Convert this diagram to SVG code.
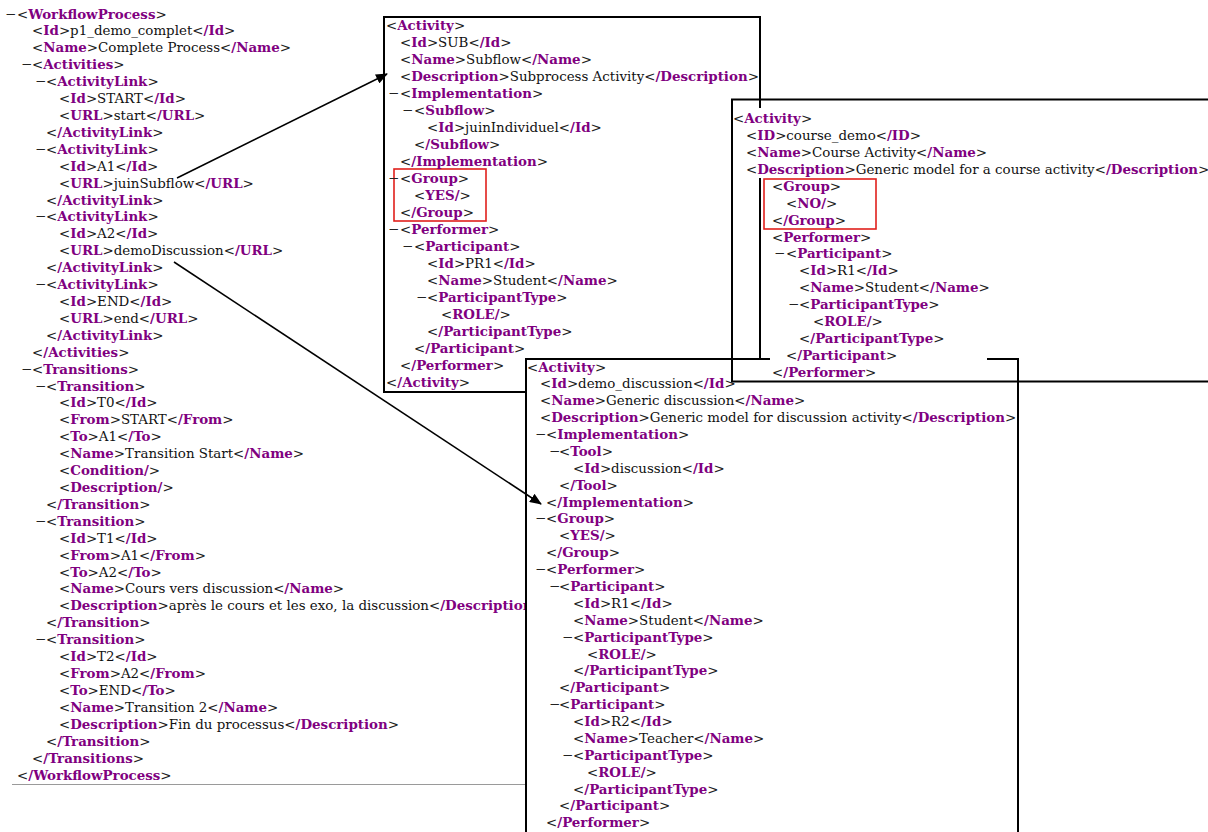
<svg xmlns="http://www.w3.org/2000/svg" width="1208" height="832" viewBox="0 0 1208 832">
<defs>
<style>
text{font-family:"DejaVu Serif","Liberation Serif",serif;font-size:13.4px;fill:#222}
.t{fill:#800080;font-weight:bold}
.v{fill:#111}
.box{fill:#fff;stroke:#000;stroke-width:2}
.frame{fill:none;stroke:#000;stroke-width:2}
.hl{fill:none;stroke:#e0201c;stroke-width:1.6}
.conn{stroke:#000;stroke-width:1.5;fill:none}
</style>
<marker id="ah" markerWidth="12" markerHeight="10" refX="11" refY="5" orient="auto" markerUnits="userSpaceOnUse">
<path d="M0,0 L12,5 L0,10 z" fill="#000"/>
</marker>
</defs>
<rect width="1208" height="832" fill="#fff"/>

<g id="workflow">
<text y="18.5"><tspan x="5">−</tspan><tspan x="17">&lt;</tspan><tspan class="t">WorkflowProcess</tspan>&gt;</text>
<text x="32" y="35.4">&lt;<tspan class="t">Id</tspan>&gt;<tspan class="v">p1_demo_complet</tspan>&lt;<tspan class="t">/Id</tspan>&gt;</text>
<text x="32" y="52.3">&lt;<tspan class="t">Name</tspan>&gt;<tspan class="v">Complete Process</tspan>&lt;<tspan class="t">/Name</tspan>&gt;</text>
<text y="69.2"><tspan x="21">−</tspan><tspan x="32">&lt;</tspan><tspan class="t">Activities</tspan>&gt;</text>
<text y="86.1"><tspan x="35">−</tspan><tspan x="46">&lt;</tspan><tspan class="t">ActivityLink</tspan>&gt;</text>
<text x="59" y="103.1">&lt;<tspan class="t">Id</tspan>&gt;<tspan class="v">START</tspan>&lt;<tspan class="t">/Id</tspan>&gt;</text>
<text x="59" y="120">&lt;<tspan class="t">URL</tspan>&gt;<tspan class="v">start</tspan>&lt;<tspan class="t">/URL</tspan>&gt;</text>
<text x="46" y="136.9">&lt;<tspan class="t">/ActivityLink</tspan>&gt;</text>
<text y="153.8"><tspan x="35">−</tspan><tspan x="46">&lt;</tspan><tspan class="t">ActivityLink</tspan>&gt;</text>
<text x="59" y="170.7">&lt;<tspan class="t">Id</tspan>&gt;<tspan class="v">A1</tspan>&lt;<tspan class="t">/Id</tspan>&gt;</text>
<text x="59" y="187.6">&lt;<tspan class="t">URL</tspan>&gt;<tspan class="v">juinSubflow</tspan>&lt;<tspan class="t">/URL</tspan>&gt;</text>
<text x="46" y="204.5">&lt;<tspan class="t">/ActivityLink</tspan>&gt;</text>
<text y="221.4"><tspan x="35">−</tspan><tspan x="46">&lt;</tspan><tspan class="t">ActivityLink</tspan>&gt;</text>
<text x="59" y="238.3">&lt;<tspan class="t">Id</tspan>&gt;<tspan class="v">A2</tspan>&lt;<tspan class="t">/Id</tspan>&gt;</text>
<text x="59" y="255.2">&lt;<tspan class="t">URL</tspan>&gt;<tspan class="v">demoDiscussion</tspan>&lt;<tspan class="t">/URL</tspan>&gt;</text>
<text x="46" y="272.2">&lt;<tspan class="t">/ActivityLink</tspan>&gt;</text>
<text y="289.1"><tspan x="35">−</tspan><tspan x="46">&lt;</tspan><tspan class="t">ActivityLink</tspan>&gt;</text>
<text x="59" y="306">&lt;<tspan class="t">Id</tspan>&gt;<tspan class="v">END</tspan>&lt;<tspan class="t">/Id</tspan>&gt;</text>
<text x="59" y="322.9">&lt;<tspan class="t">URL</tspan>&gt;<tspan class="v">end</tspan>&lt;<tspan class="t">/URL</tspan>&gt;</text>
<text x="46" y="339.8">&lt;<tspan class="t">/ActivityLink</tspan>&gt;</text>
<text x="32" y="356.7">&lt;<tspan class="t">/Activities</tspan>&gt;</text>
<text y="373.6"><tspan x="21">−</tspan><tspan x="32">&lt;</tspan><tspan class="t">Transitions</tspan>&gt;</text>
<text y="390.5"><tspan x="35">−</tspan><tspan x="46">&lt;</tspan><tspan class="t">Transition</tspan>&gt;</text>
<text x="59" y="407.4">&lt;<tspan class="t">Id</tspan>&gt;<tspan class="v">T0</tspan>&lt;<tspan class="t">/Id</tspan>&gt;</text>
<text x="59" y="424.3">&lt;<tspan class="t">From</tspan>&gt;<tspan class="v">START</tspan>&lt;<tspan class="t">/From</tspan>&gt;</text>
<text x="59" y="441.3">&lt;<tspan class="t">To</tspan>&gt;<tspan class="v">A1</tspan>&lt;<tspan class="t">/To</tspan>&gt;</text>
<text x="59" y="458.2">&lt;<tspan class="t">Name</tspan>&gt;<tspan class="v">Transition Start</tspan>&lt;<tspan class="t">/Name</tspan>&gt;</text>
<text x="59" y="475.1">&lt;<tspan class="t">Condition/</tspan>&gt;</text>
<text x="59" y="492">&lt;<tspan class="t">Description/</tspan>&gt;</text>
<text x="46" y="508.9">&lt;<tspan class="t">/Transition</tspan>&gt;</text>
<text y="525.8"><tspan x="35">−</tspan><tspan x="46">&lt;</tspan><tspan class="t">Transition</tspan>&gt;</text>
<text x="59" y="542.7">&lt;<tspan class="t">Id</tspan>&gt;<tspan class="v">T1</tspan>&lt;<tspan class="t">/Id</tspan>&gt;</text>
<text x="59" y="559.6">&lt;<tspan class="t">From</tspan>&gt;<tspan class="v">A1</tspan>&lt;<tspan class="t">/From</tspan>&gt;</text>
<text x="59" y="576.5">&lt;<tspan class="t">To</tspan>&gt;<tspan class="v">A2</tspan>&lt;<tspan class="t">/To</tspan>&gt;</text>
<text x="59" y="593.4">&lt;<tspan class="t">Name</tspan>&gt;<tspan class="v">Cours vers discussion</tspan>&lt;<tspan class="t">/Name</tspan>&gt;</text>
<text x="59" y="610.4">&lt;<tspan class="t">Description</tspan>&gt;<tspan class="v">après le cours et les exo, la discussion</tspan>&lt;<tspan class="t">/Description</tspan></text>
<text x="46" y="627.3">&lt;<tspan class="t">/Transition</tspan>&gt;</text>
<text y="644.2"><tspan x="35">−</tspan><tspan x="46">&lt;</tspan><tspan class="t">Transition</tspan>&gt;</text>
<text x="59" y="661.1">&lt;<tspan class="t">Id</tspan>&gt;<tspan class="v">T2</tspan>&lt;<tspan class="t">/Id</tspan>&gt;</text>
<text x="59" y="678">&lt;<tspan class="t">From</tspan>&gt;<tspan class="v">A2</tspan>&lt;<tspan class="t">/From</tspan>&gt;</text>
<text x="59" y="694.9">&lt;<tspan class="t">To</tspan>&gt;<tspan class="v">END</tspan>&lt;<tspan class="t">/To</tspan>&gt;</text>
<text x="59" y="711.8">&lt;<tspan class="t">Name</tspan>&gt;<tspan class="v">Transition 2</tspan>&lt;<tspan class="t">/Name</tspan>&gt;</text>
<text x="59" y="728.7">&lt;<tspan class="t">Description</tspan>&gt;<tspan class="v">Fin du processus</tspan>&lt;<tspan class="t">/Description</tspan>&gt;</text>
<text x="46" y="745.6">&lt;<tspan class="t">/Transition</tspan>&gt;</text>
<text x="32" y="762.5">&lt;<tspan class="t">/Transitions</tspan>&gt;</text>
<text x="17" y="779.5">&lt;<tspan class="t">/WorkflowProcess</tspan>&gt;</text>
<line x1="12" y1="784.5" x2="531" y2="784.5" stroke="#9a9a9a" stroke-width="1"/>
</g>

<g id="activity-sub">
<rect class="box" x="384" y="17" width="376" height="375"/>
<rect class="hl" x="394" y="169" width="92" height="52"/>
<text x="386" y="29.5">&lt;<tspan class="t">Activity</tspan>&gt;</text>
<text x="400" y="46.5">&lt;<tspan class="t">Id</tspan>&gt;<tspan class="v">SUB</tspan>&lt;<tspan class="t">/Id</tspan>&gt;</text>
<text x="400" y="63.5">&lt;<tspan class="t">Name</tspan>&gt;<tspan class="v">Subflow</tspan>&lt;<tspan class="t">/Name</tspan>&gt;</text>
<text x="400" y="80.5">&lt;<tspan class="t">Description</tspan>&gt;<tspan class="v">Subprocess Activity</tspan>&lt;<tspan class="t">/Description</tspan>&gt;</text>
<text y="97.5"><tspan x="388">−</tspan><tspan x="400">&lt;</tspan><tspan class="t">Implementation</tspan>&gt;</text>
<text y="114.5"><tspan x="402">−</tspan><tspan x="414">&lt;</tspan><tspan class="t">Subflow</tspan>&gt;</text>
<text x="427" y="131.5">&lt;<tspan class="t">Id</tspan>&gt;<tspan class="v">juinIndividuel</tspan>&lt;<tspan class="t">/Id</tspan>&gt;</text>
<text x="414" y="148.5">&lt;<tspan class="t">/Subflow</tspan>&gt;</text>
<text x="400" y="165.5">&lt;<tspan class="t">/Implementation</tspan>&gt;</text>
<text y="182.5"><tspan x="388">−</tspan><tspan x="400">&lt;</tspan><tspan class="t">Group</tspan>&gt;</text>
<text x="414" y="199.5">&lt;<tspan class="t">YES/</tspan>&gt;</text>
<text x="400" y="216.5">&lt;<tspan class="t">/Group</tspan>&gt;</text>
<text y="233.5"><tspan x="388">−</tspan><tspan x="400">&lt;</tspan><tspan class="t">Performer</tspan>&gt;</text>
<text y="250.5"><tspan x="402">−</tspan><tspan x="414">&lt;</tspan><tspan class="t">Participant</tspan>&gt;</text>
<text x="427" y="267.5">&lt;<tspan class="t">Id</tspan>&gt;<tspan class="v">PR1</tspan>&lt;<tspan class="t">/Id</tspan>&gt;</text>
<text x="427" y="284.5">&lt;<tspan class="t">Name</tspan>&gt;<tspan class="v">Student</tspan>&lt;<tspan class="t">/Name</tspan>&gt;</text>
<text y="301.5"><tspan x="416">−</tspan><tspan x="427">&lt;</tspan><tspan class="t">ParticipantType</tspan>&gt;</text>
<text x="441" y="318.5">&lt;<tspan class="t">ROLE/</tspan>&gt;</text>
<text x="427" y="335.5">&lt;<tspan class="t">/ParticipantType</tspan>&gt;</text>
<text x="414" y="352.5">&lt;<tspan class="t">/Participant</tspan>&gt;</text>
<text x="400" y="369.5">&lt;<tspan class="t">/Performer</tspan>&gt;</text>
<text x="386" y="386.5">&lt;<tspan class="t">/Activity</tspan>&gt;</text>
</g>

<g id="activity-discussion">
<rect class="box" x="526" y="359" width="492" height="490"/>
<text x="527" y="371.5">&lt;<tspan class="t">Activity</tspan>&gt;</text>
<text x="540" y="388.4">&lt;<tspan class="t">Id</tspan>&gt;<tspan class="v">demo_discussion</tspan>&lt;<tspan class="t">/Id</tspan>&gt;</text>
<text x="540" y="405.3">&lt;<tspan class="t">Name</tspan>&gt;<tspan class="v">Generic discussion</tspan>&lt;<tspan class="t">/Name</tspan>&gt;</text>
<text x="540" y="422.1">&lt;<tspan class="t">Description</tspan>&gt;<tspan class="v">Generic model for discussion activity</tspan>&lt;<tspan class="t">/Description</tspan>&gt;</text>
<text y="439"><tspan x="535">−</tspan><tspan x="546">&lt;</tspan><tspan class="t">Implementation</tspan>&gt;</text>
<text y="455.9"><tspan x="549">−</tspan><tspan x="559">&lt;</tspan><tspan class="t">Tool</tspan>&gt;</text>
<text x="573" y="472.8">&lt;<tspan class="t">Id</tspan>&gt;<tspan class="v">discussion</tspan>&lt;<tspan class="t">/Id</tspan>&gt;</text>
<text x="559" y="489.7">&lt;<tspan class="t">/Tool</tspan>&gt;</text>
<text x="546" y="506.5">&lt;<tspan class="t">/Implementation</tspan>&gt;</text>
<text y="523.4"><tspan x="535">−</tspan><tspan x="546">&lt;</tspan><tspan class="t">Group</tspan>&gt;</text>
<text x="559" y="540.3">&lt;<tspan class="t">YES/</tspan>&gt;</text>
<text x="546" y="557.2">&lt;<tspan class="t">/Group</tspan>&gt;</text>
<text y="574.1"><tspan x="535">−</tspan><tspan x="546">&lt;</tspan><tspan class="t">Performer</tspan>&gt;</text>
<text y="590.9"><tspan x="549">−</tspan><tspan x="559">&lt;</tspan><tspan class="t">Participant</tspan>&gt;</text>
<text x="573" y="607.8">&lt;<tspan class="t">Id</tspan>&gt;<tspan class="v">R1</tspan>&lt;<tspan class="t">/Id</tspan>&gt;</text>
<text x="573" y="624.7">&lt;<tspan class="t">Name</tspan>&gt;<tspan class="v">Student</tspan>&lt;<tspan class="t">/Name</tspan>&gt;</text>
<text y="641.6"><tspan x="562">−</tspan><tspan x="573">&lt;</tspan><tspan class="t">ParticipantType</tspan>&gt;</text>
<text x="587" y="658.5">&lt;<tspan class="t">ROLE/</tspan>&gt;</text>
<text x="573" y="675.4">&lt;<tspan class="t">/ParticipantType</tspan>&gt;</text>
<text x="559" y="692.2">&lt;<tspan class="t">/Participant</tspan>&gt;</text>
<text y="709.1"><tspan x="549">−</tspan><tspan x="559">&lt;</tspan><tspan class="t">Participant</tspan>&gt;</text>
<text x="573" y="726">&lt;<tspan class="t">Id</tspan>&gt;<tspan class="v">R2</tspan>&lt;<tspan class="t">/Id</tspan>&gt;</text>
<text x="573" y="742.9">&lt;<tspan class="t">Name</tspan>&gt;<tspan class="v">Teacher</tspan>&lt;<tspan class="t">/Name</tspan>&gt;</text>
<text y="759.8"><tspan x="562">−</tspan><tspan x="573">&lt;</tspan><tspan class="t">ParticipantType</tspan>&gt;</text>
<text x="587" y="776.6">&lt;<tspan class="t">ROLE/</tspan>&gt;</text>
<text x="573" y="793.5">&lt;<tspan class="t">/ParticipantType</tspan>&gt;</text>
<text x="559" y="810.4">&lt;<tspan class="t">/Participant</tspan>&gt;</text>
<text x="546" y="827.3">&lt;<tspan class="t">/Performer</tspan>&gt;</text>
</g>

<g id="activity-course">
<rect x="733" y="108" width="476" height="70" fill="#fff"/>
<rect x="770" y="352" width="217" height="11" fill="#fff"/>
<rect class="frame" x="732" y="99.5" width="490" height="282"/>
<rect class="hl" x="764" y="179" width="112" height="50"/>
<text x="733" y="123">&lt;<tspan class="t">Activity</tspan>&gt;</text>
<text x="746" y="139.9">&lt;<tspan class="t">ID</tspan>&gt;<tspan class="v">course_demo</tspan>&lt;<tspan class="t">/ID</tspan>&gt;</text>
<text x="746" y="156.9">&lt;<tspan class="t">Name</tspan>&gt;<tspan class="v">Course Activity</tspan>&lt;<tspan class="t">/Name</tspan>&gt;</text>
<text x="746" y="173.8">&lt;<tspan class="t">Description</tspan>&gt;<tspan class="v">Generic model for a course activity</tspan>&lt;<tspan class="t">/Description</tspan>&gt;</text>
<text x="772" y="190.7">&lt;<tspan class="t">Group</tspan>&gt;</text>
<text x="786" y="207.7">&lt;<tspan class="t">NO/</tspan>&gt;</text>
<text x="772" y="224.6">&lt;<tspan class="t">/Group</tspan>&gt;</text>
<text x="772" y="241.5">&lt;<tspan class="t">Performer</tspan>&gt;</text>
<text y="258.4"><tspan x="774">−</tspan><tspan x="786">&lt;</tspan><tspan class="t">Participant</tspan>&gt;</text>
<text x="799" y="275.4">&lt;<tspan class="t">Id</tspan>&gt;<tspan class="v">R1</tspan>&lt;<tspan class="t">/Id</tspan>&gt;</text>
<text x="799" y="292.3">&lt;<tspan class="t">Name</tspan>&gt;<tspan class="v">Student</tspan>&lt;<tspan class="t">/Name</tspan>&gt;</text>
<text y="309.2"><tspan x="788">−</tspan><tspan x="799">&lt;</tspan><tspan class="t">ParticipantType</tspan>&gt;</text>
<text x="813" y="326.2">&lt;<tspan class="t">ROLE/</tspan>&gt;</text>
<text x="799" y="343.1">&lt;<tspan class="t">/ParticipantType</tspan>&gt;</text>
<text x="786" y="360">&lt;<tspan class="t">/Participant</tspan>&gt;</text>
<text x="772" y="377">&lt;<tspan class="t">/Performer</tspan>&gt;</text>
</g>

<g id="connectors">
<line class="conn" x1="177" y1="178" x2="387" y2="74" marker-end="url(#ah)"/>
<line class="conn" x1="174" y1="262" x2="541" y2="504" marker-end="url(#ah)"/>
</g>
</svg>
